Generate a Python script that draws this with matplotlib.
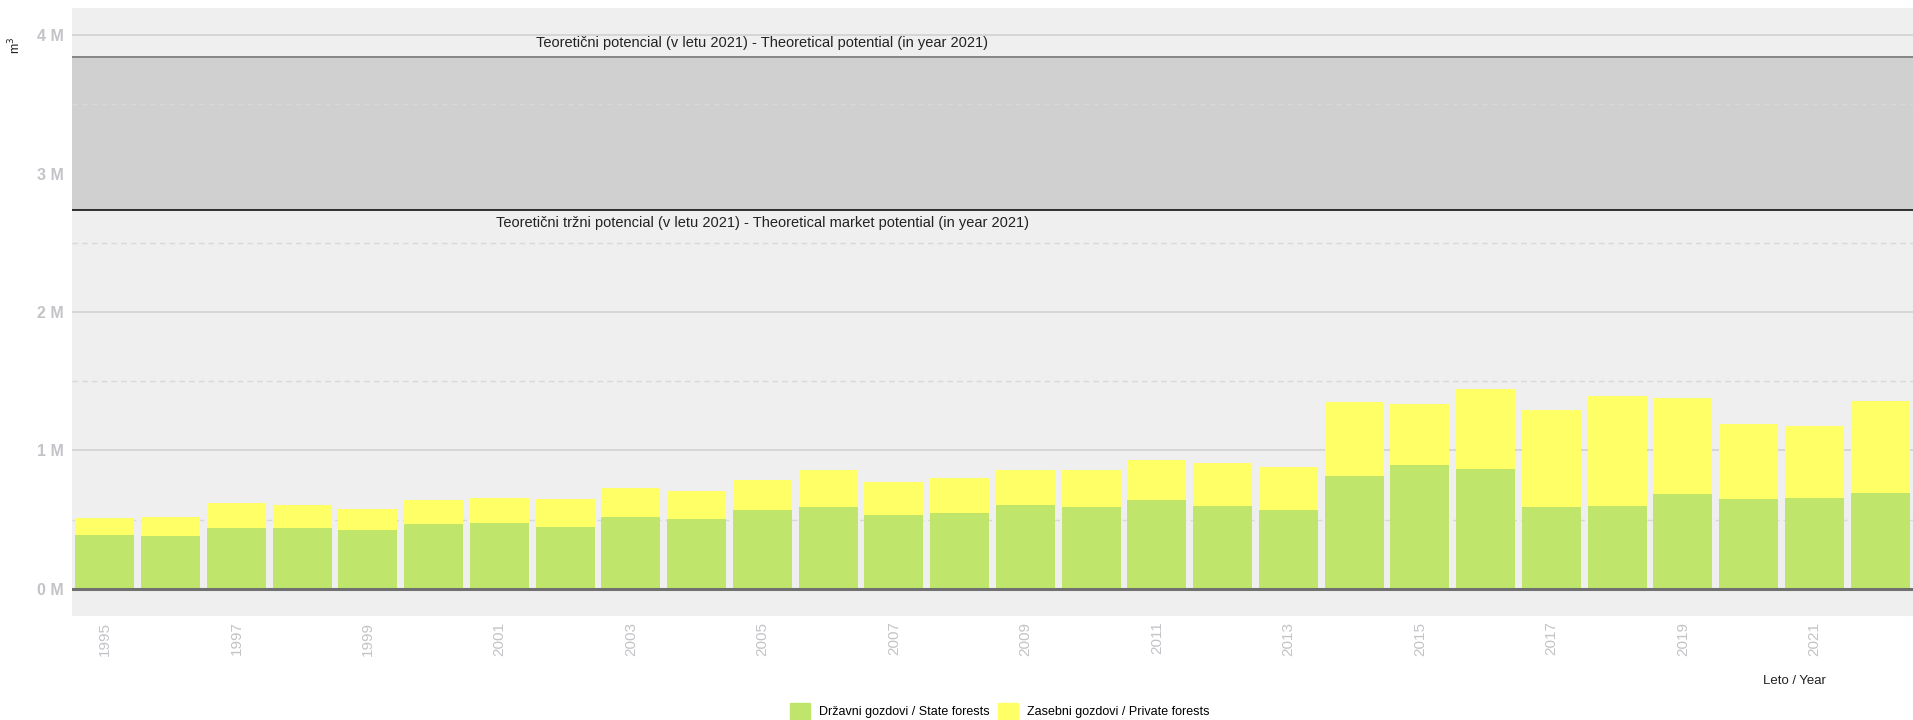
import matplotlib
matplotlib.use("Agg")
import matplotlib.pyplot as plt
from matplotlib.ticker import FixedLocator, FuncFormatter
from matplotlib.patches import Patch

plt.rcParams['font.family'] = ['Liberation Sans', 'DejaVu Sans']

# Data (m3)
years = list(range(1995, 2023))
state_forests = [390000, 380000, 440000, 440000, 424000, 467000, 477000, 450000, 520000, 508000,
                 570000, 590000, 537000, 546000, 606000, 590000, 640000, 597000, 570000, 813000,
                 893000, 869000, 590000, 599000, 684000, 650000, 659000, 693000]
private_forests = [120000, 138000, 181000, 164000, 154000, 176000, 183000, 197000, 209000, 200000,
                   217000, 269000, 233000, 258000, 253000, 269000, 294000, 310000, 311000, 537000,
                   440000, 575000, 700000, 797000, 693000, 543000, 518000, 664000]
theoretical_potential = 3840000
market_potential = 2740000
label_state = "Državni gozdovi / State forests"
label_private = "Zasebni gozdovi / Private forests"
label_potential = "Teoretični potencial (v letu 2021) - Theoretical potential (in year 2021)"
label_market = "Teoretični tržni potencial (v letu 2021) - Theoretical market potential (in year 2021)"

green = "#bfe66a"
yellow = "#ffff66"
tick_grey = "#c3c3c8"

fig = plt.figure(figsize=(19.13, 7.2), dpi=100)
ax = fig.add_axes([72 / 1913, 104 / 720, 1841 / 1913, 608 / 720])
ax.set_facecolor("#efefef")

# potential band
ax.axhspan(market_potential, theoretical_potential, color="#d0d0d0", zorder=0.2, lw=0)
ax.axhline(theoretical_potential, color="#858585", lw=1.4, zorder=3)
ax.axhline(market_potential, color="#111111", lw=1.2, zorder=3)

ax.bar(years, state_forests, width=0.9, color=green, zorder=2)
ax.bar(years, private_forests, width=0.9, bottom=state_forests, color=yellow, zorder=2)
ax.axhline(0, color="#707070", lw=2.2, zorder=3)

ax.text(2005, theoretical_potential + 55000, label_potential, ha="center", va="bottom",
        fontsize=10.5, color="#222222")
ax.text(2005, market_potential - 45000, label_market, ha="center", va="top",
        fontsize=10.5, color="#222222")

ax.set_xlim(1994.5, 2022.5)
ax.set_ylim(-195000, 4195000)

ax.yaxis.set_major_locator(FixedLocator([0, 1e6, 2e6, 3e6, 4e6]))
ax.yaxis.set_minor_locator(FixedLocator([0.5e6, 1.5e6, 2.5e6, 3.5e6]))
ax.yaxis.set_major_formatter(FuncFormatter(lambda v, p: f"{v / 1e6:.0f} M"))
ax.set_axisbelow(True)
ax.grid(axis="y", which="major", color="#d2d2d2", lw=1.2)
ax.grid(axis="y", which="minor", color="#d8d8d8", lw=1.0, ls=(0, (4, 3)))

ax.set_xticks(years[::2])
ax.set_xticklabels([str(y) for y in years[::2]], rotation=90, fontsize=11, color=tick_grey)
ax.tick_params(axis="x", length=0, pad=4)
ax.tick_params(axis="y", which="both", length=0, pad=6, labelsize=11.5, labelcolor=tick_grey)
for lbl in ax.get_yticklabels():
    lbl.set_fontweight("bold")
for s in ax.spines.values():
    s.set_visible(False)

fig.text(15 / 1913, 1 - 45 / 720, "m$^3$", rotation=90, ha="center", va="center",
         fontsize=9, color="#222222")
fig.text(1794 / 1913, 1 - 681 / 720, "Leto / Year", ha="center", va="center",
         fontsize=9.5, color="#222222")

handles = [Patch(color=green, label=label_state), Patch(color=yellow, label=label_private)]
fig.legend(handles=handles, loc="center", bbox_to_anchor=(1000 / 1913, 1 - 711 / 720), ncol=2,
           frameon=False, fontsize=9, handlelength=1.6, handleheight=1.6,
           handletextpad=0.7, columnspacing=0.7, borderpad=0)

fig.savefig("out.png", dpi=100)
